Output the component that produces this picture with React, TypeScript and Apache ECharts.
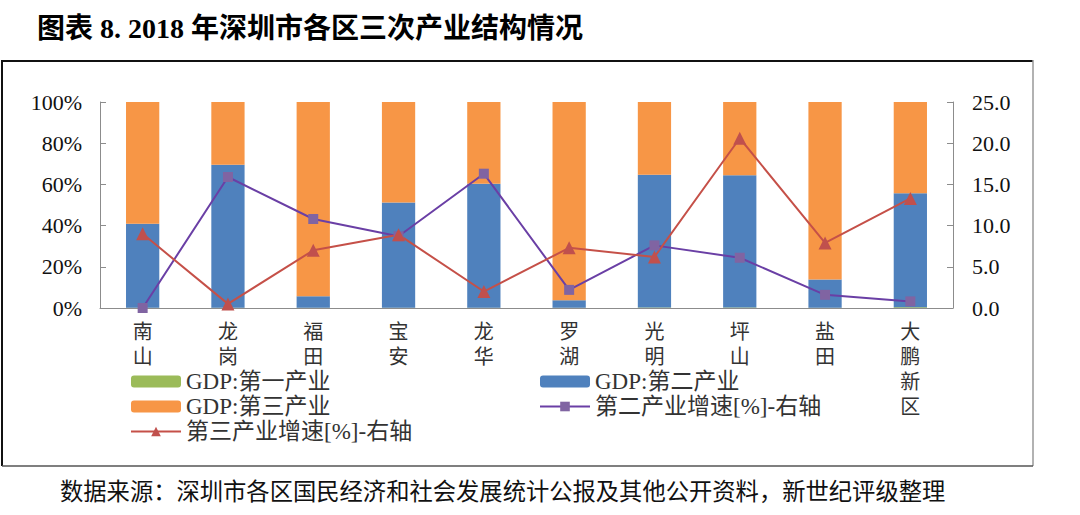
import React, { useEffect, useRef } from "react";
import * as echarts from "echarts";

const districts = ["南山", "龙岗", "福田", "宝安", "龙华", "罗湖", "光明", "坪山", "盐田", "大鹏新区"];
const primaryShare = [0.1, 0.1, 0.1, 0.1, 0.1, 0.1, 0.2, 0.2, 0.1, 0.4];
const secondaryShare = [40.8, 69.4, 5.6, 51.1, 60.2, 3.7, 64.5, 64.2, 13.7, 55.3];
const tertiaryShare = [59.1, 30.5, 94.3, 48.8, 39.7, 96.2, 35.3, 35.6, 86.2, 44.3];
const secondaryGrowth = [0.0, 15.9, 10.8, 8.7, 16.3, 2.2, 7.6, 6.1, 1.6, 0.8];
const tertiaryGrowth = [9.0, 0.5, 7.0, 8.9, 2.0, 7.3, 6.2, 20.6, 7.9, 13.3];
const leftTicks = { min: 0, max: 100, interval: 20 };
const rightTicks = { min: 0, max: 25, interval: 5 };

const titleText = "图表 8. 2018 年深圳市各区三次产业结构情况";
const sourceText = "数据来源：深圳市各区国民经济和社会发展统计公报及其他公开资料，新世纪评级整理";

const serif = "'Liberation Serif', 'Times New Roman', 'Noto Sans CJK SC', serif";
const cjk = "'Liberation Serif', 'Noto Sans CJK SC', sans-serif";

export default function App() {
  const ref = useRef<HTMLDivElement>(null);
  useEffect(() => {
    if (!ref.current) return;
    const chart = echarts.init(ref.current, undefined, { renderer: "svg" });
    const names = ["GDP:第一产业", "GDP:第二产业", "GDP:第三产业", "第二产业增速[%]-右轴", "第三产业增速[%]-右轴"];
    const legendText = { fontSize: 23, color: "#333", fontFamily: cjk };
    chart.setOption({
      animation: false,
      backgroundColor: "#ffffff",
      grid: { left: 100, right: 127, top: 102, bottom: 207, containLabel: false },
      legend: [
        {
          orient: "vertical",
          left: 125,
          top: 365,
          itemWidth: 50,
          itemHeight: 12,
          itemGap: 2,
          data: [names[0], names[2], names[4]],
          textStyle: legendText,
        },
        {
          orient: "vertical",
          left: 534,
          top: 365,
          itemWidth: 50,
          itemHeight: 12,
          itemGap: 2,
          data: [names[1], names[3]],
          textStyle: legendText,
        },
      ],
      xAxis: {
        type: "category",
        data: districts,
        axisLine: { lineStyle: { color: "#8c8c8c", width: 1 } },
        axisTick: { show: false },
        axisLabel: {
          interval: 0,
          fontSize: 20,
          lineHeight: 25,
          margin: 11,
          color: "#333",
          fontFamily: cjk,
          verticalAlign: "top",
          formatter: (v: string) => v.split("").join("\n"),
        },
      },
      yAxis: [
        {
          type: "value",
          ...leftTicks,
          splitLine: { show: false },
          axisLine: { show: true, lineStyle: { color: "#8c8c8c" } },
          axisTick: { show: true, inside: true, length: 6, lineStyle: { color: "#8c8c8c" } },
          axisLabel: { fontSize: 22, color: "#111", fontFamily: serif, margin: 18, formatter: "{value}%" },
        },
        {
          type: "value",
          ...rightTicks,
          position: "right",
          splitLine: { show: false },
          axisLine: { show: true, lineStyle: { color: "#8c8c8c" } },
          axisTick: { show: true, inside: true, length: 6, lineStyle: { color: "#8c8c8c" } },
          axisLabel: {
            fontSize: 22,
            color: "#111",
            fontFamily: serif,
            margin: 19,
            formatter: (v: number) => v.toFixed(1),
          },
        },
      ],
      series: [
        {
          name: names[0],
          type: "bar",
          stack: "gdp",
          barWidth: "39%",
          data: primaryShare,
          itemStyle: { color: "#9BBB59" },
        },
        {
          name: names[1],
          type: "bar",
          stack: "gdp",
          barWidth: "39%",
          data: secondaryShare,
          itemStyle: { color: "#4F81BD" },
        },
        {
          name: names[2],
          type: "bar",
          stack: "gdp",
          barWidth: "39%",
          data: tertiaryShare,
          itemStyle: { color: "#F79646" },
        },
        {
          name: names[3],
          type: "line",
          yAxisIndex: 1,
          data: secondaryGrowth,
          symbol: "rect",
          symbolSize: 10,
          lineStyle: { color: "#6A3FA5", width: 2 },
          itemStyle: { color: "#8064A2" },
        },
        {
          name: names[4],
          type: "line",
          yAxisIndex: 1,
          data: tertiaryGrowth,
          symbol: "triangle",
          symbolSize: 13,
          lineStyle: { color: "#C55048", width: 2 },
          itemStyle: { color: "#C0504D" },
        },
      ],
      graphic: [
        {
          type: "text",
          left: 37,
          top: 14,
          style: { text: titleText, fontSize: 28, fontWeight: "bold", fill: "#000", fontFamily: serif },
        },
        { type: "line", shape: { x1: 2, y1: 61, x2: 1033, y2: 61 }, style: { stroke: "#111", lineWidth: 2 } },
        { type: "line", shape: { x1: 2, y1: 60, x2: 2, y2: 466 }, style: { stroke: "#111", lineWidth: 2 } },
        { type: "line", shape: { x1: 1033, y1: 60, x2: 1033, y2: 466 }, style: { stroke: "#999", lineWidth: 1.5 } },
        { type: "line", shape: { x1: 2, y1: 466, x2: 1033, y2: 466 }, style: { stroke: "#555", lineWidth: 1.5 } },
        {
          type: "text",
          left: 60,
          top: 480,
          style: { text: sourceText, fontSize: 23.3, fill: "#111", fontFamily: cjk },
        },
      ],
    });
    return () => chart.dispose();
  }, []);
  return <div ref={ref} style={{ width: 1080, height: 515, position: "absolute", left: 0, top: 0 }} />;
}
